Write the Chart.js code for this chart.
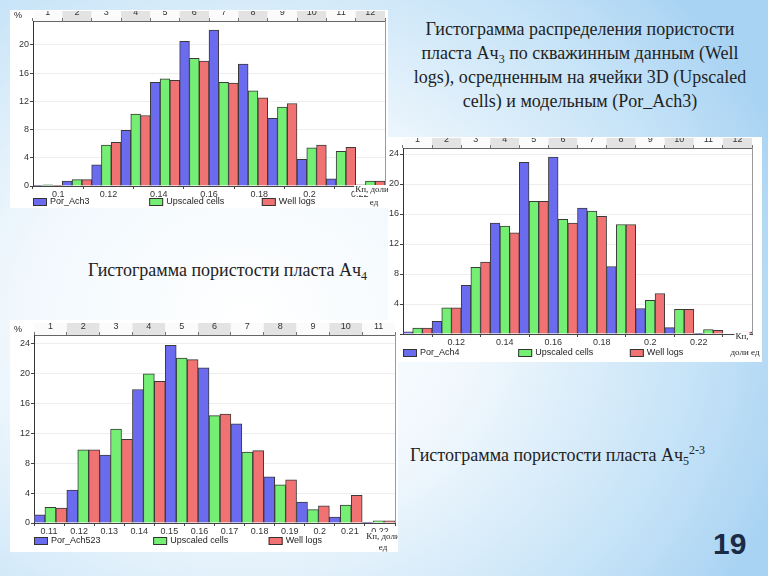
<!DOCTYPE html>
<html>
<head>
<meta charset="utf-8">
<script src="https://cdn.jsdelivr.net/npm/chart.js@4.4.0/dist/chart.umd.min.js"></script>
<style>
  body {
    margin: 0; width: 768px; height: 576px; overflow: hidden; position: relative;
    background: radial-gradient(ellipse 75% 85% at 32% 55%, #ffffff 0%, #f1f8fd 40%, #c4e2f7 80%, #a9d3f3 100%);
    font-family: "Liberation Serif", "Times New Roman", serif; color: #222;
  }
  canvas { position: absolute; background: #fff; }
  .t { position: absolute; font-size: 18px; line-height: 24px; white-space: nowrap; }
  .t sub { font-size: 12px; vertical-align: -4px; line-height: 0; }
  .t sup { font-size: 12px; vertical-align: 7px; line-height: 0; }
  .pg { position: absolute; left: 713px; top: 527px; font: bold 30px "Liberation Sans", Arial, sans-serif; color: #1b2a45; }
</style>
</head>
<body>
<canvas id="ach3" width="378" height="198" style="left:10px;top:10px"></canvas>
<canvas id="ach4" width="374" height="225" style="left:388px;top:137px"></canvas>
<canvas id="ach5" width="388" height="232" style="left:10px;top:320px"></canvas>

<div class="t" style="left:395px;top:17px;width:370px;text-align:center">Гистограмма распределения пористости<br>пласта Ач<sub>3</sub> по скважинным данным (Well<br>logs), осредненным на ячейки 3D (Upscaled<br>cells) и модельным (Por_Ach3)</div>
<div class="t" style="left:88px;top:258px">Гистограмма пористости пласта Ач<sub>4</sub></div>
<div class="t" style="left:410px;top:443px">Гистограмма пористости пласта Ач<sub>5</sub><sup>2-3</sup></div>
<div class="pg">19</div>

<script>
// Ач3: bins 0.10 .. 0.21 (step 0.01), %
const binsAch3 = ['0.10', '0.11', '0.12', '0.13', '0.14', '0.15', '0.16', '0.17', '0.18', '0.19', '0.20', '0.21'];
const cellsAch3 = ['1', '2', '3', '4', '5', '6', '7', '8', '9', '10', '11', '12'];
const kpTicksAch3 = [0.1, 0.12, 0.14, 0.16, 0.18, 0.2, 0.22];
const porAch3 = [0.1, 0.7, 3.0, 7.9, 14.7, 20.5, 22.1, 17.3, 9.6, 3.8, 1.0, 0.15];
const upscaledAch3 = [0.15, 0.9, 5.8, 10.2, 15.2, 18.1, 14.7, 13.5, 11.2, 5.4, 4.9, 0.7];
const wellAch3 = [0.1, 0.9, 6.2, 10.0, 15.0, 17.7, 14.6, 12.5, 11.7, 5.8, 5.5, 0.7];

// Ач4: bins 0.11 .. 0.22
const binsAch4 = ['0.11', '0.12', '0.13', '0.14', '0.15', '0.16', '0.17', '0.18', '0.19', '0.20', '0.21', '0.22'];
const cellsAch4 = ['1', '2', '3', '4', '5', '6', '7', '8', '9', '10', '11', '12'];
const kpTicksAch4 = [0.12, 0.14, 0.16, 0.18, 0.2, 0.22];
const porAch4 = [0.3, 1.7, 6.5, 14.8, 22.9, 23.6, 16.8, 9.0, 3.4, 0.85, 0.1, 0];
const upscaledAch4 = [0.8, 3.5, 8.9, 14.4, 17.7, 15.3, 16.4, 14.6, 4.5, 3.3, 0.6, 0];
const wellAch4 = [0.8, 3.5, 9.6, 13.5, 17.7, 14.8, 15.7, 14.6, 5.4, 3.3, 0.5, 0.25];

// Ач5 2-3: bins 0.11 .. 0.21
const binsAch523 = ['0.11', '0.12', '0.13', '0.14', '0.15', '0.16', '0.17', '0.18', '0.19', '0.20', '0.21'];
const cellsAch523 = ['1', '2', '3', '4', '5', '6', '7', '8', '9', '10', '11'];
const kpTicksAch523 = [0.11, 0.12, 0.13, 0.14, 0.15, 0.16, 0.17, 0.18, 0.19, 0.2, 0.21, 0.22];
const porAch523 = [1.1, 4.4, 9.1, 17.9, 23.8, 20.8, 13.3, 6.2, 2.8, 0.8, 0.1];
const upscaledAch523 = [2.1, 9.8, 12.6, 20.0, 22.1, 14.4, 9.5, 5.1, 1.8, 2.4, 0.3];
const wellAch523 = [2.0, 9.8, 11.2, 19.0, 21.9, 14.6, 9.7, 5.8, 2.3, 3.7, 0.3];

const colors = ['#6b6bf0', '#74ef74', '#f07272'];
const small = { family: '"Liberation Sans", Arial, sans-serif', size: 9 };

function histo(id, o) {
  // cells strip, legend, axis caption
  const decor = {
    id: 'decor',
    beforeDraw(chart) {
      const ctx = chart.ctx, s = chart.scales.xTop, n = o.cells.length;
      const w = (s.right - s.left) / n;
      ctx.save();
      for (let i = 0; i < n; i++) {
        ctx.fillStyle = i % 2 ? '#e3e3e3' : '#fbfbfb';
        ctx.fillRect(s.left + i * w, s.top, w, s.bottom - s.top);
      }
      ctx.restore();
    },
    afterDraw(chart) {
      const ctx = chart.ctx, a = chart.chartArea;
      ctx.save();
      ctx.strokeStyle = '#999';
      ctx.lineWidth = 1;
      ctx.beginPath();
      ctx.moveTo(a.right + 0.5, a.top);
      ctx.lineTo(a.right + 0.5, a.bottom);
      ctx.stroke();

      ctx.font = '9px "Liberation Sans", Arial, sans-serif';
      ctx.textBaseline = 'middle';
      [0, 0.33, 0.65].forEach((f, i) => {
        const x = a.left + f * (a.right - a.left);
        ctx.fillStyle = colors[i];
        ctx.fillRect(x, o.legendY - 4, 14, 8);
        ctx.strokeStyle = '#333';
        ctx.strokeRect(x + 0.5, o.legendY - 3.5, 13, 7);
        ctx.fillStyle = '#222';
        ctx.fillText(chart.data.datasets[i].label, x + 17, o.legendY);
      });

      if (o.pct) {
        ctx.fillText('%', o.pct[0], o.pct[1]);
      }

      ctx.font = '9px "Liberation Serif", serif';
      ctx.textAlign = 'center';
      o.kp.forEach(k => {
        const tw = ctx.measureText(k[0]).width;
        ctx.fillStyle = '#fff';
        ctx.fillRect(k[1] - tw / 2 - 1, k[2] - 5, tw + 2, 10);
        ctx.fillStyle = '#222';
        ctx.fillText(k[0], k[1], k[2]);
      });
      ctx.restore();
    }
  };

  return new Chart(document.getElementById(id), {
    type: 'bar',
    data: {
      labels: o.bins,
      datasets: o.series.map((d, i) => ({
        label: o.names[i],
        data: d,
        backgroundColor: colors[i],
        borderColor: '#3a3a3a',
        borderWidth: 1
      }))
    },
    options: {
      responsive: false,
      animation: false,
      layout: { padding: o.pad },
      categoryPercentage: 1,
      barPercentage: 1,
      plugins: { legend: { display: false }, tooltip: { enabled: false } },
      scales: {
        x: { display: false, offset: true },
        xTop: {
          type: 'category', labels: o.cells, position: 'top', offset: true,
          grid: { offset: true, drawOnChartArea: false, tickLength: 3, color: '#777' },
          border: { color: '#666' },
          ticks: { font: small, color: '#333', padding: 0 },
          afterFit: s => { s.height = o.topH; }
        },
        xKp: {
          type: 'linear', position: 'bottom', min: o.xMin, max: o.xMax,
          grid: { drawOnChartArea: false, tickLength: 3, color: '#444' },
          border: { color: '#444' },
          ticks: {
            autoSkip: false, maxRotation: 0,
            padding: 0, font: small, color: '#333',
            callback: v => String(Math.round(v * 100) / 100)
          },
          afterBuildTicks: s => { s.ticks = o.ticks.map(v => ({ value: v })); },
          afterFit: s => { s.height = 13; }
        },
        y: {
          min: 0, max: o.yMax,
          border: { color: '#333' },
          grid: { color: '#eeeeee', tickLength: 3, tickColor: '#444' },
          ticks: {
            stepSize: 4, includeBounds: false, font: small, color: '#333', padding: 1,
            callback: v => (o.hideZero && v === 0) ? '' : v
          },
          afterFit: s => { s.width = o.yW; }
        }
      }
    },
    plugins: [decor]
  });
}

histo('ach3', {
  bins: binsAch3, cells: cellsAch3, ticks: kpTicksAch3,
  series: [porAch3, upscaledAch3, wellAch3],
  names: ['Por_Ach3', 'Upscaled cells', 'Well logs'],
  xMin: 0.10, xMax: 0.22, yMax: 23.4,
  pad: { top: 1, right: 3, bottom: 9, left: 0 },
  topH: 10, yW: 23, legendY: 192, pct: [4, 6],
  kp: [['Кп, доли', 362, 180], ['ед', 364, 193]]
});

histo('ach4', {
  bins: binsAch4, cells: cellsAch4, ticks: kpTicksAch4,
  series: [porAch4, upscaledAch4, wellAch4],
  names: ['Por_Ach4', 'Upscaled cells', 'Well logs'],
  xMin: 0.11, xMax: 0.23, yMax: 24.8, hideZero: true,
  pad: { top: 1, right: 10, bottom: 15, left: 0 },
  topH: 10, yW: 15, legendY: 216,
  kp: [['Кп,', 354, 200], ['доли ед', 357, 216]]
});

histo('ach5', {
  bins: binsAch523, cells: cellsAch523, ticks: kpTicksAch523,
  series: [porAch523, upscaledAch523, wellAch523],
  names: ['Por_Ach523', 'Upscaled cells', 'Well logs'],
  xMin: 0.11, xMax: 0.22, yMax: 25.2,
  pad: { top: 3, right: 3, bottom: 16, left: 0 },
  topH: 12, yW: 24, legendY: 221, pct: [4, 10],
  kp: [['Кп, доли', 373, 217], ['ед', 373, 228]]
});
</script>
</body>
</html>
